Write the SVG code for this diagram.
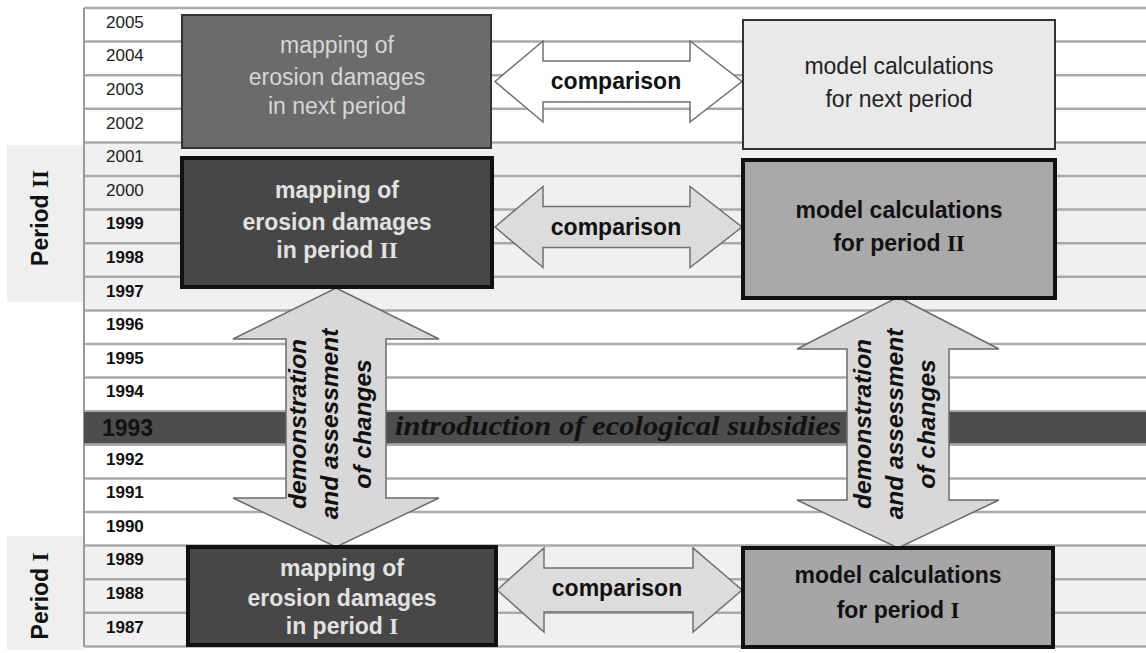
<svg xmlns="http://www.w3.org/2000/svg" width="1146" height="653" viewBox="0 0 1146 653">
<style>
.row{stroke:#aaaaaa;stroke-width:2.5}
.yr{font-family:"Liberation Sans",Arial,sans-serif;font-size:17px;fill:#222}
.yrb{font-family:"Liberation Sans",Arial,sans-serif;font-size:17px;fill:#111;font-weight:bold}
.per{font-family:"Liberation Sans",Arial,sans-serif;font-size:23px;font-weight:bold;fill:#111}
.rom{font-family:"Liberation Serif","Times New Roman",serif;font-weight:bold}
.bx{font-family:"Liberation Sans",Arial,sans-serif;font-size:23px;text-anchor:middle}
.lt{fill:#d6d6d6}
.ltb{fill:#e2e2e2;font-weight:bold}
.dk{fill:#222}
.dkb{fill:#111;font-weight:bold}
.thick{stroke:#111;stroke-width:4}
.thin{stroke:#333;stroke-width:2}
.harrow{stroke:#707070;stroke-width:1.5}
.varrow{fill:#d8d8d8;stroke:#6b6b6b;stroke-width:1.5}
.cmp{font-family:"Liberation Sans",Arial,sans-serif;font-size:23px;font-weight:bold;fill:#111;text-anchor:middle}
.vt{font-family:"Liberation Sans",Arial,sans-serif;font-size:24.5px;font-weight:bold;font-style:italic;fill:#111;text-anchor:middle}
</style>
<rect width="1146" height="653" fill="#ffffff"/>
<g id="timeline">
  <rect x="84" y="142.4" width="1062" height="168" fill="#f0f0f0"/>
  <rect x="84" y="545.6" width="1062" height="100.8" fill="#f0f0f0"/>
  <rect x="7" y="145" width="77" height="157" fill="#efefef"/>
  <rect x="7" y="536" width="77" height="114" fill="#efefef"/>
  <g>
    <line class="row" x1="84" y1="8" x2="1146" y2="8"/>
    <line class="row" x1="84" y1="41.6" x2="1146" y2="41.6"/>
    <line class="row" x1="84" y1="75.2" x2="1146" y2="75.2"/>
    <line class="row" x1="84" y1="108.8" x2="1146" y2="108.8"/>
    <line class="row" x1="84" y1="142.4" x2="1146" y2="142.4"/>
    <line class="row" x1="84" y1="176" x2="1146" y2="176"/>
    <line class="row" x1="84" y1="209.6" x2="1146" y2="209.6"/>
    <line class="row" x1="84" y1="243.2" x2="1146" y2="243.2"/>
    <line class="row" x1="84" y1="276.8" x2="1146" y2="276.8"/>
    <line class="row" x1="84" y1="310.4" x2="1146" y2="310.4"/>
    <line class="row" x1="84" y1="344" x2="1146" y2="344"/>
    <line class="row" x1="84" y1="377.6" x2="1146" y2="377.6"/>
    <line class="row" x1="84" y1="411.2" x2="1146" y2="411.2"/>
    <line class="row" x1="84" y1="444.8" x2="1146" y2="444.8"/>
    <line class="row" x1="84" y1="478.4" x2="1146" y2="478.4"/>
    <line class="row" x1="84" y1="512" x2="1146" y2="512"/>
    <line class="row" x1="84" y1="545.6" x2="1146" y2="545.6"/>
    <line class="row" x1="84" y1="579.2" x2="1146" y2="579.2"/>
    <line class="row" x1="84" y1="612.8" x2="1146" y2="612.8"/>
    <line class="row" x1="84" y1="646.4" x2="1146" y2="646.4"/>
    <line x1="84" y1="8" x2="84" y2="646.4" stroke="#999" stroke-width="2"/>
  </g>
  <rect x="84" y="412" width="1062" height="31.5" fill="#4d4d4d"/>
  <g>
    <text class="yr" x="106" y="28">2005</text>
    <text class="yr" x="106" y="61.4">2004</text>
    <text class="yr" x="106" y="95">2003</text>
    <text class="yr" x="106" y="129">2002</text>
    <text class="yr" x="106" y="162.2">2001</text>
    <text class="yr" x="106" y="195.8">2000</text>
    <text class="yrb" x="106" y="229.4">1999</text>
    <text class="yrb" x="106" y="263">1998</text>
    <text class="yrb" x="106" y="296.6">1997</text>
    <text class="yrb" x="106" y="330.2">1996</text>
    <text class="yrb" x="106" y="363.8">1995</text>
    <text class="yrb" x="106" y="397.4">1994</text>
    <text x="102" y="436" font-family="'Liberation Sans',Arial,sans-serif" font-size="23" font-weight="bold" fill="#111">1993</text>
    <text class="yrb" x="106" y="464.6">1992</text>
    <text class="yrb" x="106" y="498.2">1991</text>
    <text class="yrb" x="106" y="531.8">1990</text>
    <text class="yrb" x="106" y="565.4">1989</text>
    <text class="yrb" x="106" y="599">1988</text>
    <text class="yrb" x="106" y="632.6">1987</text>
  </g>
  <text class="per" transform="translate(48,218) rotate(-90)" text-anchor="middle">Period <tspan class="rom">II</tspan></text>
  <text class="per" transform="translate(48,596) rotate(-90)" text-anchor="middle">Period <tspan class="rom">I</tspan></text>
  <text x="395" y="435" font-family="'Liberation Serif','Times New Roman',serif" font-size="27" font-weight="bold" font-style="italic" fill="#111" textLength="446" lengthAdjust="spacingAndGlyphs">introduction of ecological subsidies</text>
</g>
<g id="connectors">
  <polygon class="harrow" fill="#ffffff" points="495,81.5 543,41 543,61 690,61 690,41 742,81.5 690,122 690,102 543,102 543,122"/>
  <polygon class="harrow" fill="#dcdcdc" points="495,227 543,186.5 543,206.5 690,206.5 690,186.5 742,227 690,267.5 690,247.5 543,247.5 543,267.5"/>
  <polygon class="harrow" fill="#dcdcdc" points="497,590 544,548 544,568 693,568 693,548 742,590 693,632 693,612 544,612 544,632"/>
  <polygon class="varrow" points="336,288 439,339 386,339 386,498 439,498 336,547 233,498 286,498 286,339 233,339"/>
  <polygon class="varrow" points="898,297 999,349 949,349 949,500 999,500 898,548 797,500 847,500 847,349 797,349"/>
  <text class="cmp" x="616" y="89">comparison</text>
  <text class="cmp" x="616" y="235">comparison</text>
  <text class="cmp" x="617" y="596">comparison</text>
  <text class="vt" transform="translate(306,424) rotate(-90)">demonstration</text>
  <text class="vt" transform="translate(338,424) rotate(-90)">and assessment</text>
  <text class="vt" transform="translate(371,424) rotate(-90)">of changes</text>
  <text class="vt" transform="translate(871,424) rotate(-90)">demonstration</text>
  <text class="vt" transform="translate(903,424) rotate(-90)">and assessment</text>
  <text class="vt" transform="translate(935,424) rotate(-90)">of changes</text>
</g>
<g id="mapping-next">
  <rect class="thin" x="182" y="15" width="309" height="133" fill="#6b6b6b"/>
  <text class="bx lt" x="337" y="53">mapping of</text>
  <text class="bx lt" x="337" y="85">erosion damages</text>
  <text class="bx lt" x="337" y="114">in next period</text>
</g>
<g id="model-next">
  <rect class="thin" x="743" y="20" width="312" height="129" fill="#e9e9e9"/>
  <text class="bx dk" x="899" y="74">model calculations</text>
  <text class="bx dk" x="899" y="107">for next period</text>
</g>
<g id="mapping-II">
  <rect class="thick" x="182" y="158" width="310" height="129" fill="#474747"/>
  <text class="bx ltb" x="337" y="198">mapping of</text>
  <text class="bx ltb" x="337" y="230">erosion damages</text>
  <text class="bx ltb" x="337" y="258">in period <tspan class="rom">II</tspan></text>
</g>
<g id="model-II">
  <rect class="thick" x="743" y="160" width="312" height="138" fill="#a9a9a9"/>
  <text class="bx dkb" x="899" y="218">model calculations</text>
  <text class="bx dkb" x="899" y="251">for period <tspan class="rom">II</tspan></text>
</g>
<g id="mapping-I">
  <rect class="thick" x="188" y="547" width="308" height="98" fill="#474747"/>
  <text class="bx ltb" x="342" y="576">mapping of</text>
  <text class="bx ltb" x="342" y="606">erosion damages</text>
  <text class="bx ltb" x="342" y="634">in period <tspan class="rom">I</tspan></text>
</g>
<g id="model-I">
  <rect class="thick" x="743" y="548" width="310" height="99" fill="#a6a6a6"/>
  <text class="bx dkb" x="898" y="583">model calculations</text>
  <text class="bx dkb" x="898" y="618">for period <tspan class="rom">I</tspan></text>
</g>
</svg>
